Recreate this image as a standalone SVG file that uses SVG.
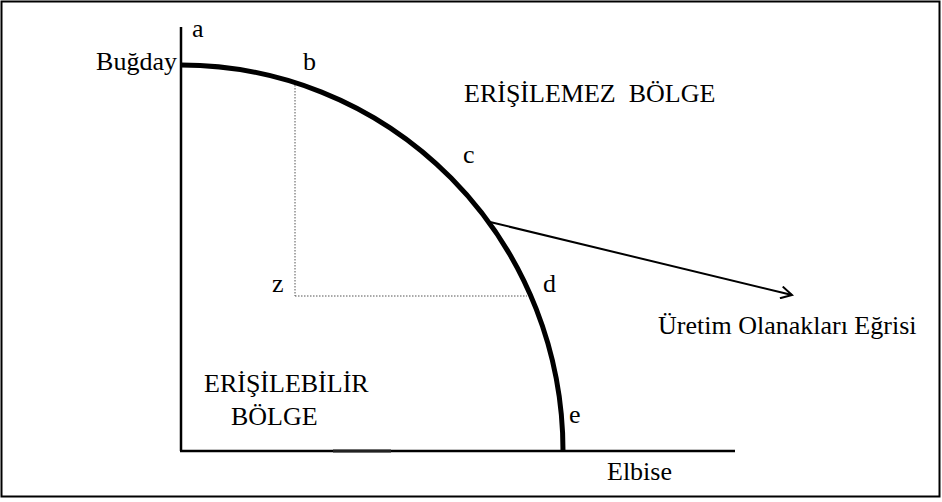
<svg xmlns="http://www.w3.org/2000/svg" width="942" height="502" viewBox="0 0 942 502">
<style>
text{font-family:"Liberation Serif","DejaVu Serif","Times New Roman",serif;font-size:26px;fill:#000}
.axis{stroke:#000;stroke-width:2.5;fill:none}
.dot{stroke:#555;stroke-width:1;stroke-dasharray:1.5 1.5;fill:none}
</style>
<defs>
<marker id="arr" markerWidth="14" markerHeight="14" refX="12" refY="7" orient="auto" markerUnits="userSpaceOnUse">
<path d="M1,1 L12,7 L1,13" fill="none" stroke="#000" stroke-width="2"/>
</marker>
</defs>
<rect x="1.5" y="1.5" width="938" height="495" fill="#fff" stroke="#000" stroke-width="2"/>
<g id="axes">
<line class="axis" x1="181" y1="27" x2="181" y2="451"/>
<line class="axis" x1="180" y1="451" x2="735" y2="451"/>
<line x1="333" y1="451" x2="391" y2="451" stroke="#222" stroke-width="3"/>
</g>
<g id="curve">
<path d="M181,65 A382,386 0 0 1 563,451" fill="none" stroke="#000" stroke-width="5"/>
</g>
<g id="guides">
<line class="dot" x1="295" y1="85" x2="295" y2="296"/>
<line class="dot" x1="295" y1="296" x2="527" y2="296"/>
</g>
<g id="connectors">
<line x1="490" y1="222" x2="792" y2="295" stroke="#000" stroke-width="2" marker-end="url(#arr)"/>
</g>
<g id="labels" font-family="Liberation Serif, DejaVu Serif, serif">
<text x="192" y="37">a</text>
<text x="177" y="70" text-anchor="end">Buğday</text>
<text x="303" y="70">b</text>
<text x="464" y="102" xml:space="preserve">ERİŞİLEMEZ  BÖLGE</text>
<text x="463" y="163">c</text>
<text x="272" y="292">z</text>
<text x="543" y="292">d</text>
<text x="658" y="334">Üretim Olanakları Eğrisi</text>
<text x="204" y="392">ERİŞİLEBİLİR</text>
<text x="231" y="425">BÖLGE</text>
<text x="569" y="423">e</text>
<text x="607" y="480">Elbise</text>
</g>
</svg>
